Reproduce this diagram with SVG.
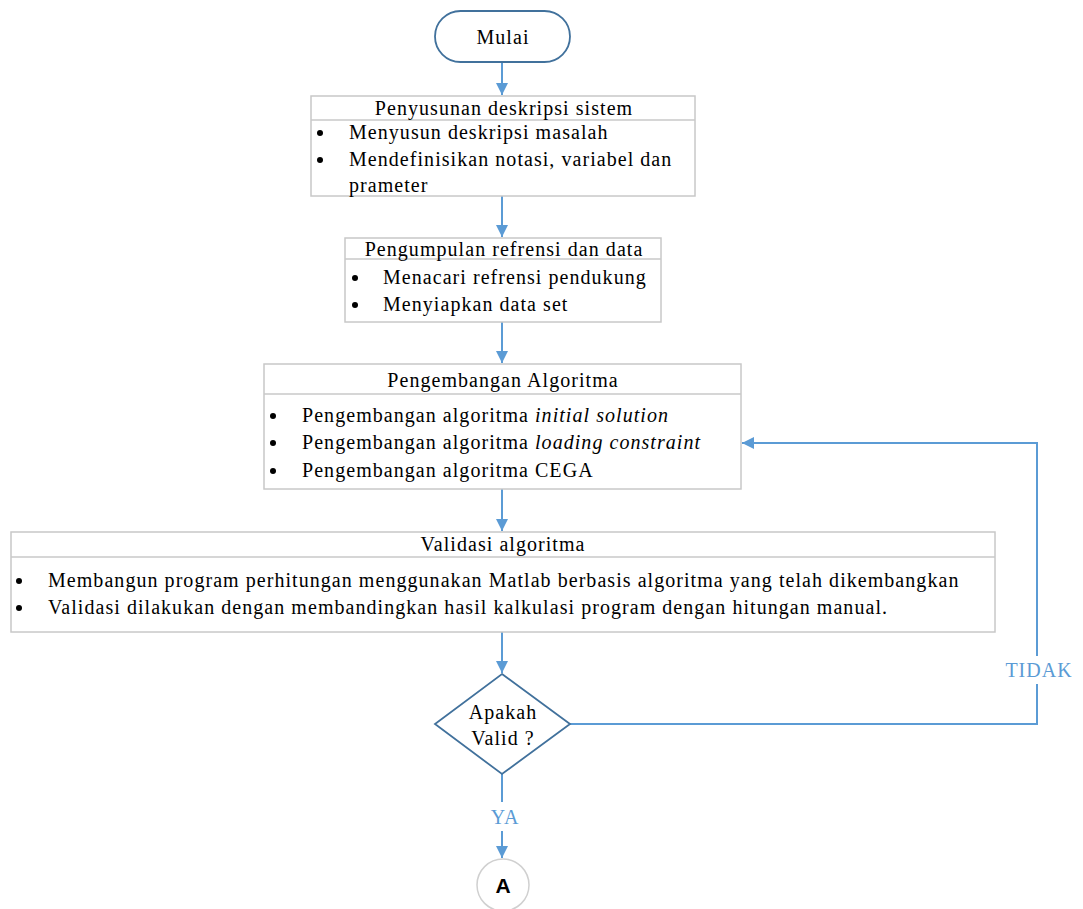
<svg xmlns="http://www.w3.org/2000/svg" width="1083" height="909" viewBox="0 0 1083 909">
  <style>
    .box { fill: #ffffff; stroke: #c8c8c8; stroke-width: 1.5; }
    .div { stroke: #c8c8c8; stroke-width: 1.5; }
    .term { fill: #ffffff; stroke: #41719c; stroke-width: 1.8; }
    .t { font-family: "Liberation Serif", "Times New Roman", serif; font-size: 20px; letter-spacing: 1.05px; fill: #000000; }
    .c { text-anchor: middle; }
    .lbl { font-family: "Liberation Serif", "Times New Roman", serif; font-size: 20px; letter-spacing: 1px; fill: #5b9bd5; }
    .conn { fill: none; stroke: #5b9bd5; stroke-width: 2; }
    .bul { fill: #000000; }
  </style>
  <defs>
    <marker id="arr" viewBox="0 0 10 10" refX="10" refY="5" markerWidth="6" markerHeight="6" markerUnits="strokeWidth" orient="auto">
      <path d="M0,0 L10,5 L0,10 z" fill="#5b9bd5"/>
    </marker>
  </defs>
  <rect width="1083" height="909" fill="#ffffff"/>

  <!-- connectors -->
  <g id="connectors">
    <line class="conn" x1="502" y1="62" x2="502" y2="95" marker-end="url(#arr)"/>
    <line class="conn" x1="502" y1="196" x2="502" y2="237" marker-end="url(#arr)"/>
    <line class="conn" x1="502" y1="322" x2="502" y2="363" marker-end="url(#arr)"/>
    <line class="conn" x1="502" y1="489" x2="502" y2="531" marker-end="url(#arr)"/>
    <line class="conn" x1="502" y1="632" x2="502" y2="673" marker-end="url(#arr)"/>
    <line class="conn" x1="502" y1="774" x2="502" y2="802"/>
    <line class="conn" x1="502" y1="831" x2="502" y2="858" marker-end="url(#arr)"/>
    <polyline class="conn" points="570,724 1037,724 1037,684"/>
    <polyline class="conn" points="1037,656 1037,443 742,443" marker-end="url(#arr)"/>
    <text class="lbl c" x="505" y="824">YA</text>
    <text class="lbl c" x="1039" y="677">TIDAK</text>
  </g>

  <!-- start terminator -->
  <g id="start">
    <rect class="term" x="435" y="11" width="135" height="51" rx="25.5" ry="25.5"/>
    <text class="t c" x="503" y="44">Mulai</text>
  </g>

  <!-- step 1 -->
  <g id="step1">
    <rect class="box" x="311" y="96" width="384" height="100"/>
    <line class="div" x1="311" y1="120" x2="695" y2="120"/>
    <text class="t c" x="504" y="115">Penyusunan deskripsi sistem</text>
    <circle class="bul" cx="320" cy="133" r="3"/>
    <text class="t" x="349" y="139">Menyusun deskripsi masalah</text>
    <circle class="bul" cx="320" cy="160" r="3"/>
    <text class="t" x="349" y="166">Mendefinisikan notasi, variabel dan</text>
    <text class="t" x="349" y="192">prameter</text>
  </g>

  <!-- step 2 -->
  <g id="step2">
    <rect class="box" x="345" y="238" width="316" height="84"/>
    <line class="div" x1="345" y1="259" x2="661" y2="259"/>
    <text class="t c" x="504" y="256">Pengumpulan refrensi dan data</text>
    <circle class="bul" cx="355" cy="278" r="3"/>
    <text class="t" x="383" y="284">Menacari refrensi pendukung</text>
    <circle class="bul" cx="355" cy="305" r="3"/>
    <text class="t" x="383" y="311">Menyiapkan data set</text>
  </g>

  <!-- step 3 -->
  <g id="step3">
    <rect class="box" x="264" y="364" width="477" height="125"/>
    <line class="div" x1="264" y1="394" x2="741" y2="394"/>
    <text class="t c" x="503" y="387">Pengembangan Algoritma</text>
    <circle class="bul" cx="273" cy="416" r="3"/>
    <text class="t" x="302" y="422">Pengembangan algoritma <tspan font-style="italic">initial solution</tspan></text>
    <circle class="bul" cx="273" cy="443" r="3"/>
    <text class="t" x="302" y="449">Pengembangan algoritma <tspan font-style="italic">loading constraint</tspan></text>
    <circle class="bul" cx="273" cy="471" r="3"/>
    <text class="t" x="302" y="477">Pengembangan algoritma CEGA</text>
  </g>

  <!-- step 4 -->
  <g id="step4">
    <rect class="box" x="11" y="532" width="984" height="100"/>
    <line class="div" x1="11" y1="557" x2="995" y2="557"/>
    <text class="t c" x="503" y="551">Validasi algoritma</text>
    <circle class="bul" cx="19" cy="581" r="3"/>
    <text class="t" x="48" y="587">Membangun program perhitungan menggunakan Matlab berbasis algoritma yang telah dikembangkan</text>
    <circle class="bul" cx="19" cy="608" r="3"/>
    <text class="t" x="48" y="614">Validasi dilakukan dengan membandingkan hasil kalkulasi program dengan hitungan manual.</text>
  </g>

  <!-- decision -->
  <g id="decision">
    <polygon class="term" points="502,674 570,724 502,774 435,724"/>
    <text class="t c" x="503" y="719">Apakah</text>
    <text class="t c" x="503" y="745">Valid ?</text>
  </g>

  <!-- off-page connector -->
  <g id="connector-a">
    <circle cx="503" cy="885" r="26" fill="#ffffff" stroke="#d0d0d0" stroke-width="1.5"/>
    <text x="503" y="893" text-anchor="middle" font-family="Liberation Sans, Arial, sans-serif" font-size="21" font-weight="bold" fill="#000000">A</text>
  </g>
</svg>
